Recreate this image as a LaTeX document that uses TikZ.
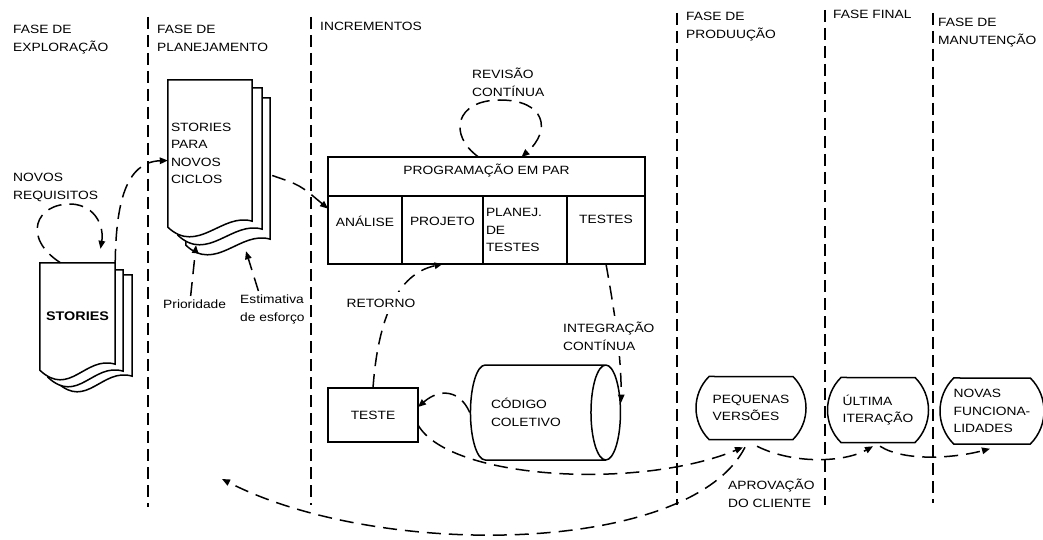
\documentclass[tikz,border=0pt]{standalone}
\usepackage{fontspec}
\setmainfont{Liberation Sans}[FakeStretch=1.15]
\usetikzlibrary{arrows.meta, positioning, shapes.geometric, shapes.misc, backgrounds, calc}

% folhas empilhadas atras de um no (documento)
\newcommand{\pilha}[5]{%
  \begin{scope}[on background layer]
    \foreach \dx/\dy in {#4/#5, #2/#3, 0/0} {
      \draw[folha] ($(#1.north west)+(\dx,\dy)$) -- ($(#1.north east)+(\dx,\dy)$)
        -- ($(#1.south east)+(\dx,\dy-6)$)
        .. controls +(-30,-9) and +(30,28) .. ($(#1.south west)+(\dx,\dy)$) -- cycle;
    }
  \end{scope}}

\begin{document}
\begin{tikzpicture}[x=1pt, y=-1pt,
  every node/.style={font=\fontsize{12}{17.5}\selectfont},
  rotulo/.style={inner sep=0pt, align=left, anchor=north west},
  caixa/.style={draw, line width=1.5pt, inner sep=3pt, outer sep=0pt},
  celula/.style={caixa, minimum height=68pt},
  doc/.style={inner xsep=3pt, align=left},
  folha/.style={draw, fill=white, line width=1.5pt},
  bolha/.style={draw, line width=1.5pt, rounded rectangle, rounded rectangle arc length=90,
                align=left, minimum height=63pt, inner xsep=1pt},
  fase/.style={line width=1.8pt, dash pattern=on 12pt off 6pt},
  seta/.style={line width=1.5pt, dash pattern=on 14pt off 8pt, -{Triangle[length=8pt, width=6.5pt]}}
]
\useasboundingbox (0,0) rectangle (1043,540);

% linhas das fases
\foreach \x/\a/\b in {148/17/507, 311/17/505, 677/13/505, 825/10/505, 933/13/503}
  \draw[fase] (\x,\a) -- (\x,\b);

\node[rotulo] (fexp)   at (13,25)  {FASE DE\\EXPLORAÇÃO};
\node[rotulo] (fplan)  at (157,25) {FASE DE\\PLANEJAMENTO};
\node[rotulo] (fincr)  at (320,22) {INCREMENTOS};
\node[rotulo] (fprod)  at (686,12) {FASE DE\\PRODUUÇÃO};
\node[rotulo] (ffinal) at (833,10) {FASE FINAL};
\node[rotulo] (fmanut) at (938,18) {FASE DE\\MANUTENÇÃO};

% documentos
\node[doc, minimum width=75pt, minimum height=107pt,
      font=\fontsize{12.5}{15}\selectfont\bfseries] (stories) at (77.5,316.5) {STORIES};
\node[doc, minimum width=84pt, minimum height=147pt, text width=78pt] (plan) at (210,153.5)
  {STORIES\\PARA\\NOVOS\\CICLOS};
\pilha{stories}{8}{7}{17}{12}
\pilha{plan}{10}{8}{18}{18}

% incrementos
\node[caixa, minimum width=317pt, minimum height=39pt, text depth=14pt] (par) at (486.5,176.5)
  {PROGRAMAÇÃO EM PAR};
\node[celula, minimum width=74pt, text depth=17pt, anchor=north west] (analise) at (par.south west) {ANÁLISE};
\node[celula, minimum width=81pt, text depth=17pt, right=0pt of analise] (projeto) {PROJETO};
\node[celula, minimum width=84pt, text width=78pt, align=left, right=0pt of projeto] (planej)
  {PLANEJ.\\DE\\TESTES};
\node[celula, minimum width=78pt, text depth=22pt, right=0pt of planej] (testes) {TESTES};

\node[caixa, minimum width=90pt, minimum height=54pt] (teste) at (373,415) {TESTE};
\node[draw, line width=1.5pt, cylinder, aspect=0.85, minimum height=150pt, minimum width=95pt,
      text width=88pt, align=left] (codigo) at (535,412.5) {CÓDIGO\\COLETIVO};

\node[bolha, minimum width=112pt] (pequenas) at (751,408) {PEQUENAS\\VERSÕES};
\node[bolha, minimum width=103pt, minimum height=65pt] (ultima) at (878,410) {ÚLTIMA\\ITERAÇÃO};
\node[bolha, minimum width=106pt, minimum height=66pt] (novas) at (992,411) {NOVAS\\FUNCIONA-\\LIDADES};

\node[rotulo] (novosreq)   at (13,173)  {NOVOS\\REQUISITOS};
\node[rotulo] (revisao)    at (472,68)  {REVISÃO\\CONTÍNUA};
\node[rotulo] (prioridade) at (163,300) {Prioridade};
\node[rotulo] (estimativa) at (240,295) {Estimativa\\de esforço};
\node[rotulo] (aprovacao)  at (728,479) {APROVAÇÃO\\DO CLIENTE};
\coordinate (novociclo) at (222,479);

% setas
\draw[seta] ([xshift=-17pt]stories.north) .. controls (22,238) and (35,203) .. (72,204)
  .. controls (97,206) and (104,228) .. ([xshift=23pt,yshift=14pt]stories.north);
\draw[seta] (stories.north east) .. controls (116,205) and (125,162) .. ([yshift=-7pt]plan.west);
\draw[seta] ([xshift=-4pt,yshift=4pt]prioridade.north) -- ([xshift=-14pt,yshift=-18pt]plan.south);
\draw[seta] ([xshift=-14pt,yshift=4pt]estimativa.north) -- ([xshift=36pt,yshift=-24pt]plan.south);
\draw[seta] ([xshift=20pt,yshift=-22pt]plan.east) .. controls (300,185) .. (analise.150);
\draw[seta] ([xshift=-8pt]par.north) .. controls (448,135) and (455,100) .. (500,100)
  .. controls (545,100) and (552,130) .. ([xshift=35pt]par.north);
\draw[seta] (teste.north) .. controls +(5,-70) and +(-45,10) .. (projeto.south);
\draw[seta] (testes.south) .. controls +(8,45) and +(0,-50) .. ([yshift=10pt]codigo.east);
\draw[seta] (codigo.west) .. controls (460,390) and (440,388) .. ([yshift=8pt]teste.east);
\draw[seta] ([yshift=-10pt]teste.east) .. controls (450,480) and (640,490)
  .. ([xshift=-8pt,yshift=-7pt]pequenas.south);
\draw[seta] ([xshift=-6pt,yshift=-7pt]pequenas.south) .. controls (690,555) and (380,560) .. (novociclo);
\draw[seta] ([xshift=6pt,yshift=-6pt]pequenas.south) .. controls (795,465) and (845,462)
  .. ([xshift=-5pt,yshift=-3pt]ultima.south);
\draw[seta] ([xshift=2pt,yshift=-3pt]ultima.south) .. controls (905,462) and (955,458)
  .. ([xshift=-2pt,yshift=-4pt]novas.south);

\node[fill=white, inner xsep=2pt, inner ysep=7pt] (retorno) at (381,303) {RETORNO};
\node[rotulo, fill=white, inner ysep=6pt, inner xsep=1pt] (integracao) at (562,316)
  {INTEGRAÇÃO\\CONTÍNUA};
\end{tikzpicture}
\end{document}
